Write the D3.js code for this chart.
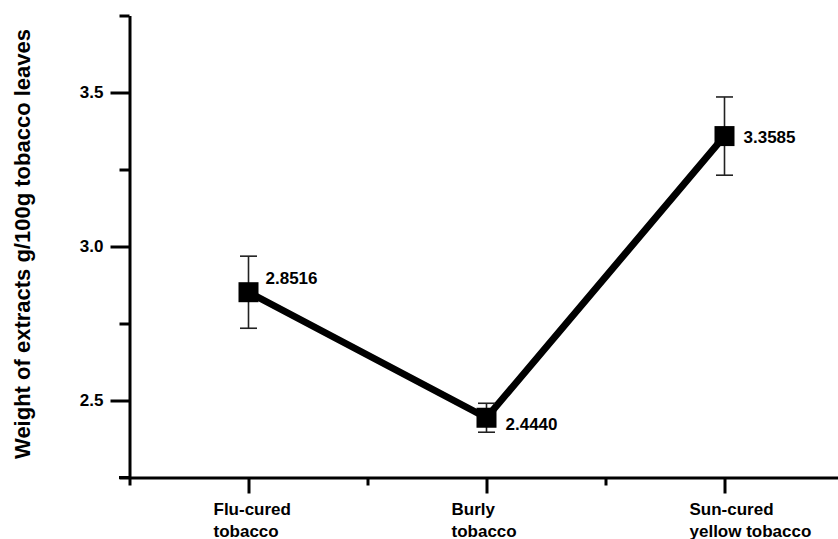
<!DOCTYPE html>
<html>
<head>
<meta charset="utf-8">
<script src="https://cdn.jsdelivr.net/npm/d3@7"></script>
<style>
  html, body { margin: 0; padding: 0; background: #fff; }
  svg { display: block; font-family: "Liberation Sans", Arial, sans-serif; }
</style>
</head>
<body>
<svg id="chart" width="838" height="539"></svg>
<script>
// Tobacco types and their mean extract weight (g/100 g leaves) with standard deviation
const categories = [["Flu-cured", "tobacco"], ["Burly", "tobacco"], ["Sun-cured", "yellow tobacco"]];
const means = [2.8516, 2.4440, 3.3585];
const errors = [0.117, 0.047, 0.127];
const valueLabels = ["2.8516", "2.4440", "3.3585"];
const yMajorTicks = [2.5, 3.0, 3.5];
const yMinorTicks = [2.25, 2.75, 3.25, 3.75];
const xMinorTicks = [-0.5, 0.5, 1.5, 2.5];
const yTitle = "Weight of extracts g/100g tobacco leaves";

const svg = d3.select("#chart");

const x = d3.scaleLinear().domain([-0.5, 2.5]).range([129.5, 843.5]);
const y = d3.scaleLinear().domain([2.25, 3.75]).range([477.5, 15.5]);

const AXIS_W = 3;

// Y axis: major ticks labelled, minor ticks shorter
const yAxis = svg.append("g").attr("transform", `translate(${x(-0.5)},0)`);
yAxis.call(d3.axisLeft(y).tickValues(yMajorTicks).tickSize(19).tickSizeOuter(0)
  .tickFormat(d3.format(".1f")).tickPadding(7));
yAxis.append("g").call(d3.axisLeft(y).tickValues(yMinorTicks).tickSize(10).tickFormat(""))
  .select(".domain").remove();
yAxis.selectAll("path, line").attr("stroke", "#000").attr("stroke-width", AXIS_W);
yAxis.selectAll("text").attr("fill", "#000").attr("font-size", 17).attr("font-weight", "bold");

// X axis: category ticks with minor ticks between
const xAxis = svg.append("g").attr("transform", `translate(0,${y(2.25)})`);
xAxis.call(d3.axisBottom(x).tickValues([0, 1, 2]).tickSize(16).tickSizeOuter(0).tickFormat(""));
xAxis.append("g").call(d3.axisBottom(x).tickValues(xMinorTicks).tickSize(8).tickFormat(""))
  .select(".domain").remove();
xAxis.selectAll("path, line").attr("stroke", "#000").attr("stroke-width", AXIS_W);
// extend the baseline to the left of the y axis
xAxis.append("line").attr("x1", x(-0.5) - 10.5).attr("x2", x(-0.5))
  .attr("stroke", "#000").attr("stroke-width", AXIS_W);

// Two-line category labels, left-aligned blocks under each tick
const catG = svg.append("g").attr("font-size", 17).attr("font-weight", "bold").attr("fill", "#000");
categories.forEach((lines, i) => {
  const t = catG.append("text").attr("x", x(i) - 35).attr("y", y(2.25) + 37);
  lines.forEach((ln, j) => {
    t.append("tspan").attr("x", x(i) - 35).attr("dy", j === 0 ? 0 : 22).text(ln);
  });
});

// Y axis title
svg.append("text")
  .attr("transform", `translate(30,${244}) rotate(-90)`)
  .attr("text-anchor", "middle")
  .attr("font-size", 22).attr("font-weight", "bold").attr("fill", "#000")
  .text(yTitle);

// Connecting line
const line = d3.line().x((d, i) => x(i)).y(d => y(d));
svg.append("path").datum(means).attr("d", line)
  .attr("fill", "none").attr("stroke", "#000").attr("stroke-width", 7)
  .attr("stroke-linejoin", "round");

// Error bars
const eb = svg.append("g").attr("stroke", "#222").attr("stroke-width", 1.6);
means.forEach((m, i) => {
  const cx = x(i), half = 8.5;
  eb.append("line").attr("x1", cx).attr("x2", cx).attr("y1", y(m + errors[i])).attr("y2", y(m - errors[i]));
  eb.append("line").attr("x1", cx - half).attr("x2", cx + half).attr("y1", y(m + errors[i])).attr("y2", y(m + errors[i]));
  eb.append("line").attr("x1", cx - half).attr("x2", cx + half).attr("y1", y(m - errors[i])).attr("y2", y(m - errors[i]));
});

// Square markers
const size = 20;
svg.append("g").selectAll("rect").data(means).join("rect")
  .attr("x", (d, i) => x(i) - size / 2).attr("y", d => y(d) - size / 2)
  .attr("width", size).attr("height", size).attr("fill", "#000");

// Value labels beside each marker
const labelShift = [[17, -14], [19, 6], [19, 1]];
svg.append("g").selectAll("text").data(means).join("text")
  .attr("x", (d, i) => x(i) + labelShift[i][0])
  .attr("y", (d, i) => y(d) + labelShift[i][1])
  .attr("dy", "0.35em")
  .attr("font-size", 17).attr("font-weight", "bold").attr("fill", "#000")
  .text((d, i) => valueLabels[i]);
</script>
</body>
</html>
